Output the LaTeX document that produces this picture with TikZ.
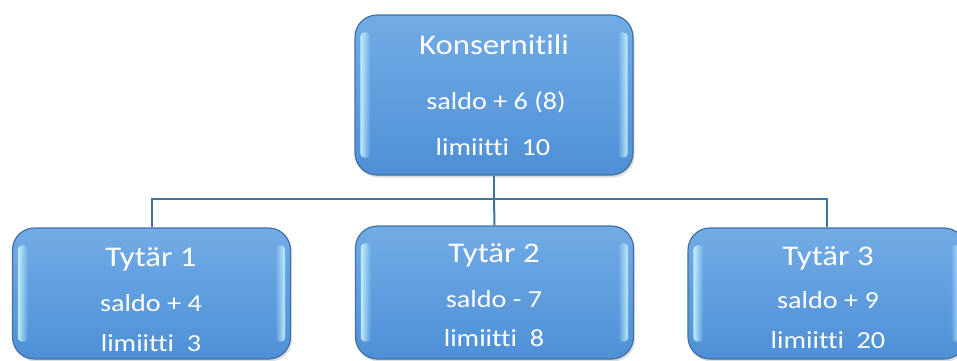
\documentclass[tikz,border=0pt]{standalone}
\usepackage{fontspec}
\setmainfont{Carlito}[FakeStretch=1.15, Ligatures={NoCommon}]
\usetikzlibrary{shadows,fadings}
\definecolor{boxtop}{RGB}{114,172,230}
\definecolor{boxbot}{RGB}{78,143,214}
\definecolor{boxedge}{RGB}{64,112,164}
\definecolor{lineblue}{RGB}{66,114,158}
\definecolor{glow}{RGB}{195,242,255}
\tikzfading[name=fadeR, left color=transparent!0, right color=transparent!100]
\tikzfading[name=fadeL, left color=transparent!100, right color=transparent!0]
\tikzset{
  acct/.style={rectangle, rounded corners=22pt, draw=boxedge, line width=1.2pt,
    top color=boxtop, bottom color=boxbot, minimum width=278pt, inner sep=0pt,
    drop shadow={opacity=0.25, shadow xshift=1.5pt, shadow yshift=-2.5pt}},
  ttl/.style={text=white, font=\fontsize{28.5}{32}\selectfont, anchor=base, inner sep=0pt},
  sub/.style={text=white, font=\fontsize{24.5}{28}\selectfont, anchor=base, inner sep=0pt},
  conn/.style={draw=lineblue, line width=2pt},
  glowstrip/.style={rounded corners=4pt, fill=glow, opacity=0.95}
}
\begin{document}
\begin{tikzpicture}[x=1pt,y=-1pt]
\useasboundingbox (0,0) rectangle (957,360);
\clip (0,0) rectangle (957,360);
% boxes
\node[acct, minimum height=160pt] (top) at (494,95) {};
\node[acct, minimum height=131pt] (t1) at (151.5,293.5) {};
\node[acct, minimum height=133pt] (t2) at (494.5,292.5) {};
\node[acct, minimum height=131pt] (t3) at (827,293.5) {};
% side highlights
\foreach \b in {top,t1,t2,t3}{
  \fill[glowstrip, path fading=fadeR]
    ([xshift=6pt,yshift=-18pt]\b.north west) rectangle ([xshift=16pt,yshift=18pt]\b.south west);
  \fill[glowstrip, path fading=fadeL]
    ([xshift=-16pt,yshift=-18pt]\b.north east) rectangle ([xshift=-6pt,yshift=18pt]\b.south east);
}
% connectors
\coordinate (j) at (494,199);
\draw[conn] (top.south) -- (j);
\draw[conn] (t1.north) -- (t1.north |- j) -- (t3.north |- j) -- (t3.north);
\draw[conn] (j) -- (t2.north);
% texts
\node[ttl] (top1) at (494,54.5) {Konsernitili};
\node[sub] (top2) at (496,109.3) {saldo + 6 (8)};
\node[sub] (top3) at (493,155.7) {limiitti\ \ 10};
\node[ttl] (a1) at (151,266) {Tytär 1};
\node[sub] (a2) at (151,311) {saldo + 4};
\node[sub] (a3) at (151,351) {limiitti\ \ 3};
\node[ttl] (b1) at (494,262) {Tytär 2};
\node[sub] (b2) at (494,307) {saldo - 7};
\node[sub] (b3) at (494,346) {limiitti\ \ 8};
\node[ttl] (c1) at (828,265) {Tytär 3};
\node[sub] (c2) at (828,308) {saldo + 9};
\node[sub] (c3) at (828,348) {limiitti\ \ 20};
\end{tikzpicture}
\end{document}
